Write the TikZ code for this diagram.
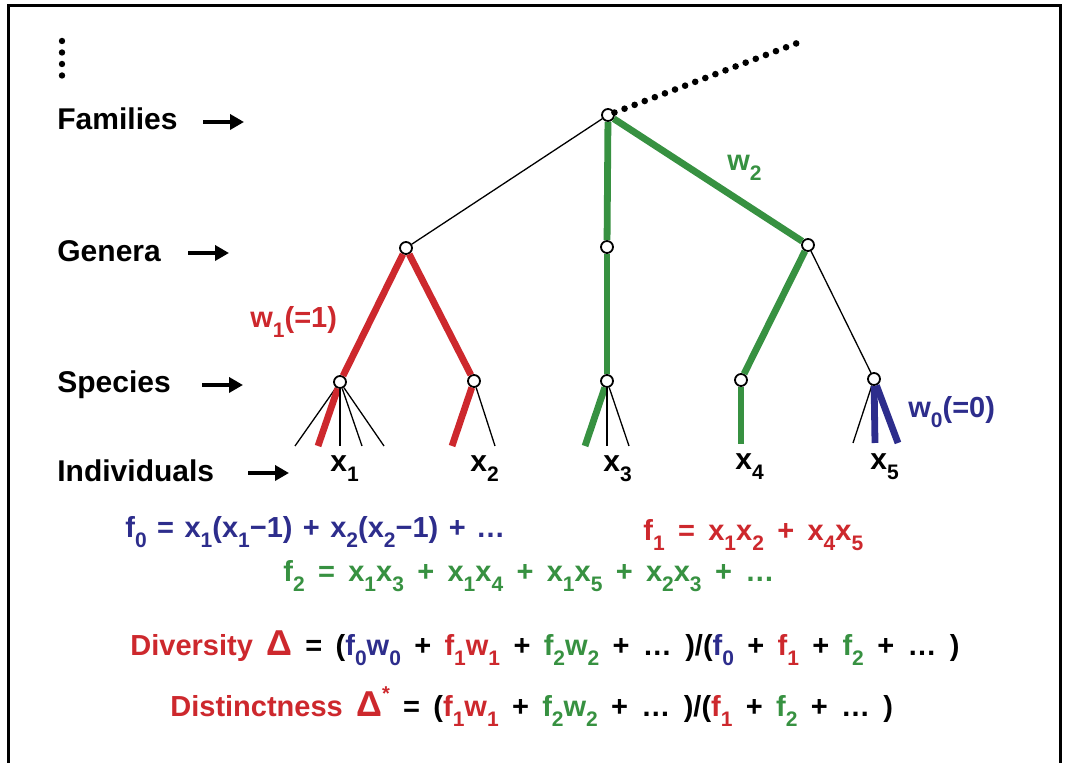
\documentclass[tikz,border=0pt]{standalone}
\usepackage{fontspec}
\setmainfont{Liberation Sans}
\usepackage{xcolor}
\usetikzlibrary{arrows.meta,positioning}
\definecolor{wred}{RGB}{205,40,45}
\definecolor{wgreen}{RGB}{55,145,65}
\definecolor{wblue}{RGB}{45,45,140}
\newcommand{\ssub}[1]{\raisebox{-0.6ex}{\fontsize{10.5}{10}\selectfont #1}}
\newcommand{\ssup}[1]{\raisebox{1.1ex}{\fontsize{10}{10}\selectfont #1}}
\newcommand{\wide}{\spaceskip=0.46em plus 0.1em\relax}

\begin{document}
\begin{tikzpicture}[x=0.5pt,y=-0.5pt,>={Triangle[length=7pt,width=7.5pt]},
 taxon/.style={circle,draw,fill=white,line width=0.9pt,inner sep=0pt,minimum size=6pt},
 twig/.style={line width=0.65pt},
 br/.style={line width=3.4pt,color=#1},
 level/.style={font=\fontsize{15}{17}\selectfont\bfseries,anchor=base west,inner sep=0pt},
 lvlarr/.style={->,line width=2pt},
 xlab/.style={font=\fontsize{15}{17}\selectfont\bfseries,anchor=base west,inner sep=0pt},
 eq/.style={font=\fontsize{14.5}{17}\selectfont\bfseries\wide,anchor=base west,inner sep=0pt},
 dots/.style={line width=3.3pt,line cap=round,dash pattern=on 0pt off 5.4pt}]
\useasboundingbox (0,0) rectangle (1066,763);
% frame, open at the bottom
\draw[line width=1.5pt] (8,775) -- (8,6) -- (1060,6) -- (1060,775);

% level labels
\node[level] (fam) at (57,130) {Families};
\node[level] (gen) at (57,262) {Genera};
\node[level] (spe) at (57,393) {Species};
\node[level] (ind) at (57,482) {Individuals};
\coordinate (famA) at (203,122); \coordinate (famB) at (244,122);
\coordinate (genA) at (188,253); \coordinate (genB) at (229,253);
\coordinate (speA) at (202,385); \coordinate (speB) at (243,385);
\coordinate (indA) at (248,473); \coordinate (indB) at (289,473);
\draw[lvlarr] (famA) -- (famB);
\draw[lvlarr] (genA) -- (genB);
\draw[lvlarr] (speA) -- (speB);
\draw[lvlarr] (indA) -- (indB);
\foreach \y in {41,52.5,64,75.5} \fill (62,\y) circle (1.6pt);

% tree
\node[taxon] (F) at (608,115) {};
\coordinate (far) at (800,42);
\node[taxon] (G1) at (406,248) {};
\node[taxon] (G2) at (607,247) {};
\node[taxon] (G3) at (808,245) {};
\node[taxon] (S1) at (340,382) {};
\node[taxon] (S2) at (474,381) {};
\node[taxon] (S3) at (607,381) {};
\node[taxon] (S4) at (741,380) {};
\node[taxon] (S5) at (874,379) {};
\coordinate (a1) at (295,446); \coordinate (a2) at (318,446);
\coordinate (a3) at (340,446); \coordinate (a4) at (362,446);
\coordinate (a5) at (384,446);
\coordinate (b1) at (452,446); \coordinate (b2) at (495,446);
\coordinate (c1) at (585,446); \coordinate (c2) at (607,446);
\coordinate (c3) at (629,446);
\coordinate (d1) at (741,444);
\coordinate (e1) at (853,443); \coordinate (e2) at (875,443);
\coordinate (e3) at (898,443);

\draw[dots] (F) -- (far);
\draw[twig] (F) -- (G1);
\draw[br=wgreen] (F) -- (G2);
\draw[br=wgreen] (F) -- (G3);
\draw[br=wred] (G1) -- (S1);
\draw[br=wred] (G1) -- (S2);
\draw[br=wgreen] (G2) -- (S3);
\draw[br=wgreen] (G3) -- (S4);
\draw[twig] (G3) -- (S5);
\draw[twig] (S1) -- (a1);
\draw[br=wred] (S1) -- (a2);
\draw[twig] (S1) -- (a3);
\draw[twig] (S1) -- (a4);
\draw[twig] (S1) -- (a5);
\draw[br=wred] (S2) -- (b1);
\draw[twig] (S2) -- (b2);
\draw[br=wgreen] (S3) -- (c1);
\draw[twig] (S3) -- (c2);
\draw[twig] (S3) -- (c3);
\draw[br=wgreen] (S4) -- (d1);
\draw[twig] (S5) -- (e1);
\draw[br=wblue] (S5) -- (e2);
\draw[br=wblue] (S5) -- (e3);

% weights
\node[eq,text=wred] (w1) at (250,328) {w\ssub{1}(=1)};
\node[eq,text=wgreen] (w2) at (727,171) {w\ssub{2}};
\node[eq,text=wblue] (w0) at (908,418) {w\ssub{0}(=0)};

% individuals
\node[xlab] (x1) at (330,472) {x\ssub{1}};
\node[xlab] (x2) at (470,472) {x\ssub{2}};
\node[xlab] (x3) at (603,472) {x\ssub{3}};
\node[xlab] (x4) at (735,470) {x\ssub{4}};
\node[xlab] (x5) at (870,470) {x\ssub{5}};

% sums and indices
\node[eq,text=wblue] (f0) at (125,538)
 {\spaceskip=0.36em f\ssub{0} = x\ssub{1}(x\ssub{1}−1) + x\ssub{2}(x\ssub{2}−1) + …};
\node[eq,text=wred] (f1) at (643,541)
 {f\ssub{1} = x\ssub{1}x\ssub{2} + x\ssub{4}x\ssub{5}};
\node[eq,text=wgreen] (f2) at (283,582)
 {f\ssub{2} = x\ssub{1}x\ssub{3} + x\ssub{1}x\ssub{4} + x\ssub{1}x\ssub{5} + x\ssub{2}x\ssub{3} + …};
\node[eq] (div) at (130,656)
 {\textcolor{wred}{Diversity {\fontsize{18}{18}\selectfont Δ}} = (\textcolor{wblue}{f\ssub{0}w\ssub{0}}
 + \textcolor{wred}{f\ssub{1}w\ssub{1}} + \textcolor{wgreen}{f\ssub{2}w\ssub{2}} + … )/(\textcolor{wblue}{f\ssub{0}}
 + \textcolor{wred}{f\ssub{1}} + \textcolor{wgreen}{f\ssub{2}} + … )};
\node[eq] (dist) at (170,717)
 {\textcolor{wred}{Distinctness {\fontsize{18}{18}\selectfont Δ}\ssup{*}} = (\textcolor{wred}{f\ssub{1}w\ssub{1}}
 + \textcolor{wgreen}{f\ssub{2}w\ssub{2}} + … )/(\textcolor{wred}{f\ssub{1}} + \textcolor{wgreen}{f\ssub{2}} + … )};
\end{tikzpicture}
\end{document}
